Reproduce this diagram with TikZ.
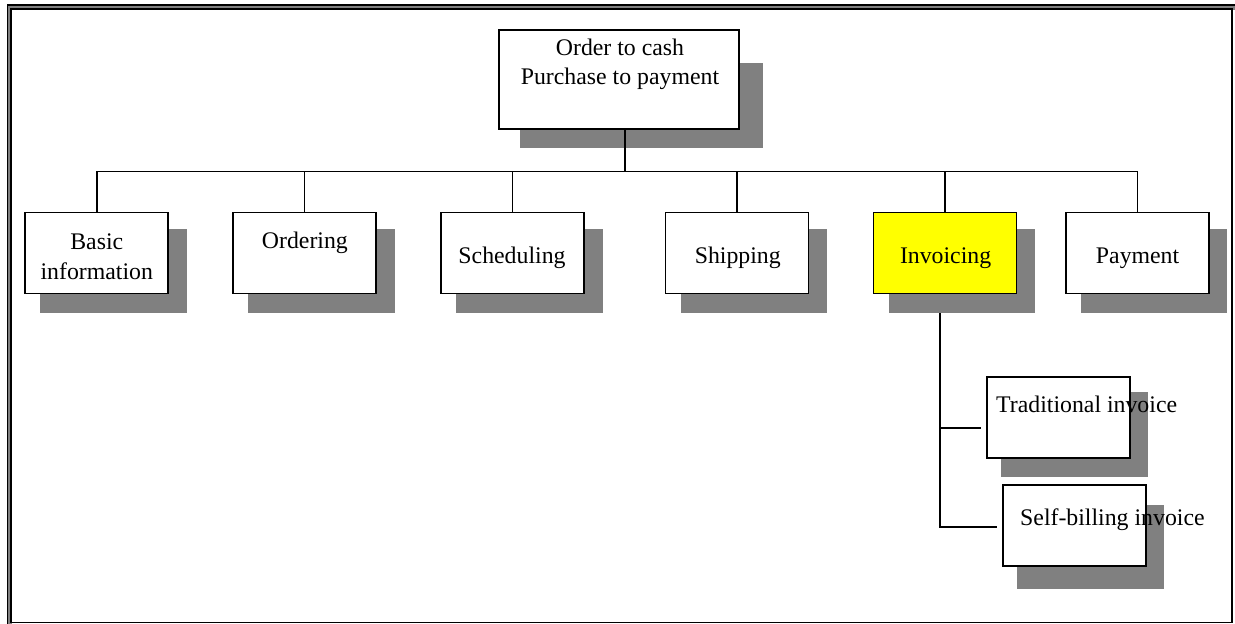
\documentclass[tikz,border=0pt]{standalone}
\usepackage{fontspec}
\setmainfont{Liberation Serif}
\usetikzlibrary{calc}
\definecolor{shadowgray}{HTML}{808080}
\definecolor{hilite}{HTML}{FFFF00}

\begin{document}
\begin{tikzpicture}[x=1pt,y=-1pt,
  box/.style={draw=black, line width=1.7pt, fill=white, rectangle,
    inner sep=0pt, outer sep=0pt, minimum width=143pt, minimum height=81pt},
  txt/.style={font=\fontsize{23.8}{28.5}\selectfont, inner sep=0pt, align=center},
  wire/.style={draw=black, line width=1.8pt},
  stemwire/.style={draw=black, line width=2.8pt},
  dropshadow/.style={fill=shadowgray, draw=none},
]
\useasboundingbox (0,0) rectangle (1235,624);

% page frame: double rule on the top and left, single rule elsewhere
\draw[line width=5pt, gray] (9.2,624) -- (9.2,7) -- (1235,7);
\draw[line width=1.8pt] (7.5,624) -- (7.5,5) -- (1235,5);
\draw[line width=1.8pt] (11,9) rectangle (1232,622.5);

% boxes (placed first so their anchors exist, redrawn on top later)
\path
  (619,79.5)    node[box, minimum width=240pt, minimum height=99pt] (top) {}
  (96.8,253)    node[box] (basic) {}
  (304.5,253)   node[box] (ordering) {}
  (512.5,253)   node[box] (sched) {}
  (737,253)     node[box] (ship) {}
  (945,253)     node[box, fill=hilite] (inv) {}
  (1137.4,253)  node[box] (pay) {}
  (1058.3,417.3) node[box] (trad) {}
  (1074.2,525.5) node[box] (self) {};

% invoicing sub-branch (runs behind the shadow of its parent)
\coordinate (invdrop) at ($(inv.south)+(-4.7,0)$);
\coordinate (tradend) at ($(trad.west)+(-6,11)$);
\coordinate (selfend) at ($(self.west)+(-6,1.2)$);
\draw[wire] (invdrop) |- (tradend);
\draw[wire] (invdrop) |- (selfend);

% shadows
\foreach \b in {basic,ordering,sched,ship,inv,pay}
  \fill[dropshadow] ($(\b.north west)+(15,16)$) rectangle ($(\b.south east)+(18.5,19)$);
\fill[dropshadow] ($(top.north west)+(21,33)$) rectangle ($(top.south east)+(24,19)$);
\fill[dropshadow] ($(trad.north west)+(14.3,15.6)$) rectangle ($(trad.south east)+(17.7,18.7)$);
\fill[dropshadow] ($(self.north west)+(14.3,20)$) rectangle ($(self.south east)+(18.3,23.3)$);

% main tree: stem from the root and the bus to the six boxes
\coordinate (stem) at ($(top.south)+(6,0)$);
\coordinate (bus) at (625,171.5);
\draw[stemwire] (stem) -- (bus);
\draw[wire] (basic.north) |- (bus) -| (pay.north);
\foreach \b in {ordering,sched,ship,inv}
  \draw[wire] (\b.north) -- (\b.north |- bus);

% boxes on top of the shadows
\path
  (619,79.5)    node[box, minimum width=240pt, minimum height=99pt] {}
  (96.8,253)    node[box] {}
  (304.5,253)   node[box] {}
  (512.5,253)   node[box] {}
  (737,253)     node[box] {}
  (945,253)     node[box, fill=hilite] {}
  (1137.4,253)  node[box] {}
  (1058.3,417.3) node[box] {}
  (1074.2,525.5) node[box] {};

% texts (base of a two-line node is the baseline of its last line)
\node[txt, anchor=base] (ttop) at (620,84) {Order to cash\\Purchase to payment};
\node[txt, anchor=base, font=\fontsize{23.8}{30}\selectfont] (tbasic) at (96.8,279) {Basic\\information};
\node[txt, anchor=base] (tordering) at (304.9,248) {Ordering};
\node[txt, anchor=base] (tsched) at (512,263) {Scheduling};
\node[txt, anchor=base] (tship) at (737.8,263) {Shipping};
\node[txt, anchor=base] (tinv) at (945.6,263) {Invoicing};
\node[txt, anchor=base] (tpay) at (1137.6,263) {Payment};
\node[txt, anchor=base west] (ttrad) at (996,412) {Traditional invoice};
\node[txt, anchor=base west] (tself) at (1020,525) {Self-billing invoice};
\end{tikzpicture}
\end{document}
